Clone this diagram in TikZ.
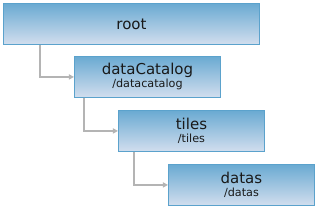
\documentclass[tikz,border=0pt]{standalone}
\usepackage{fontspec}
\setmainfont{DejaVu Sans}
\usetikzlibrary{arrows.meta}
\definecolor{boxtop}{RGB}{106,170,210}
\definecolor{boxbottom}{RGB}{210,222,238}
\definecolor{boxline}{RGB}{91,162,204}
\definecolor{linkgray}{RGB}{180,180,180}
\newcommand{\titlefont}{\fontsize{15}{16}\selectfont}
\newcommand{\pathfont}{\fontsize{11.2}{12}\selectfont}

\begin{document}
\begin{tikzpicture}[x=1pt, y=-1pt,
  box/.style={draw=boxline, line width=0.9pt, top color=boxtop, bottom color=boxbottom,
    anchor=north west, minimum width=146pt, minimum height=41pt, inner sep=0pt,
    align=center, text=black!90},
  link/.style={draw=linkgray, line width=1.4pt, -{Triangle[length=5pt,width=5pt]}}]
  \useasboundingbox (0,0) rectangle (317,208);
  % folders
  \node[box, minimum width=256pt] (root) at (3,3) {\titlefont root};
  \node[box] (catalog) at (74,56) {\titlefont dataCatalog\\[1pt]\pathfont /datacatalog};
  \node[box] (tiles) at (118,110) {\titlefont tiles\\[1pt]\pathfont /tiles};
  \node[box] (datas) at (168,164) {\titlefont datas\\[1pt]\pathfont /datas};
  % links
  \draw[link] ([xshift=37pt]root.south west) |- (catalog.west);
  \draw[link] ([xshift=10pt]catalog.south west) |- (tiles.west);
  \draw[link] ([xshift=16pt]tiles.south west) |- (datas.west);
\end{tikzpicture}
\end{document}
